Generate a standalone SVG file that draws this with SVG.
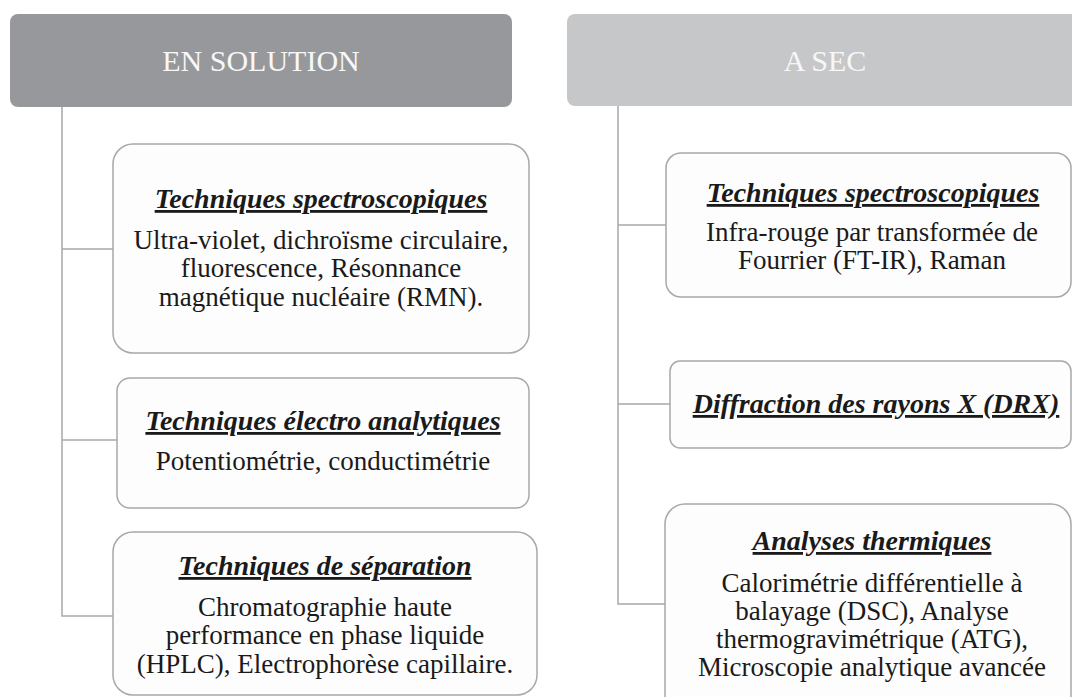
<svg xmlns="http://www.w3.org/2000/svg" width="1072" height="697" viewBox="0 0 1072 697">
<style>
text{font-family:'Liberation Serif','Tinos','Times New Roman',Times,'DejaVu Serif',serif}
.hdr-text{font-size:30px;fill:#f7f7f7;text-anchor:middle}
.box{fill:#fdfdfd;stroke:#a8a8aa;stroke-width:1.5}
.title{font-size:28px;font-weight:bold;font-style:italic;fill:#1a1a1a;text-anchor:middle;text-decoration:underline}
.body{font-size:27px;fill:#1a1a1a;text-anchor:middle}
.conn{fill:none;stroke:#a8a8aa;stroke-width:1.5}
</style>
<rect width="1072" height="697" fill="#ffffff"/>
<g id="connectors">
<path class="conn" d="M62,107 V616 H113 M62,249 H113 M62,440 H117"/>
<path class="conn" d="M618,106 V604 H665 M618,225 H666 M618,404 H670"/>
</g>
<g id="hdr-solution">
<rect x="10" y="14" width="502" height="93" rx="8" fill="#97989c"/>
<text class="hdr-text" x="261" y="71">EN SOLUTION</text>
</g>
<g id="hdr-sec">
<rect x="567" y="14" width="520" height="92" rx="8" fill="#c6c7c9"/>
<text class="hdr-text" x="825" y="71">A SEC</text>
</g>
<g id="sol-spectro">
<rect class="box" x="113" y="144" width="416" height="209" rx="20"/>
<text class="title" x="321" y="208">Techniques spectroscopiques</text>
<text class="body" x="321" y="249">Ultra-violet, dichroïsme circulaire,</text>
<text class="body" x="321" y="277">fluorescence, Résonnance</text>
<text class="body" x="321" y="306">magnétique nucléaire (RMN).</text>
</g>
<g id="sol-electro">
<rect class="box" x="117" y="378" width="412" height="130" rx="13"/>
<text class="title" x="323" y="430">Techniques électro analytiques</text>
<text class="body" x="323" y="470">Potentiométrie, conductimétrie</text>
</g>
<g id="sol-separation">
<rect class="box" x="113" y="532" width="424" height="163" rx="20"/>
<text class="title" x="325" y="575">Techniques de séparation</text>
<text class="body" x="325" y="616">Chromatographie haute</text>
<text class="body" x="325" y="644">performance en phase liquide</text>
<text class="body" x="325" y="673">(HPLC), Electrophorèse capillaire.</text>
</g>
<g id="sec-spectro">
<rect class="box" x="666" y="153" width="405" height="144" rx="15"/>
<text class="title" x="873" y="202">Techniques spectroscopiques</text>
<text class="body" x="872" y="241">Infra-rouge par transformée de</text>
<text class="body" x="872" y="269">Fourrier (FT-IR), Raman</text>
</g>
<g id="sec-drx">
<rect class="box" x="670" y="361" width="401" height="87" rx="10"/>
<text class="title" x="876" y="413">Diffraction des rayons X (DRX)</text>
</g>
<g id="sec-thermal">
<rect class="box" x="665" y="504" width="406" height="210" rx="20"/>
<text class="title" x="872" y="550">Analyses thermiques</text>
<text class="body" x="872" y="592">Calorimétrie différentielle à</text>
<text class="body" x="872" y="620">balayage (DSC), Analyse</text>
<text class="body" x="872" y="648">thermogravimétrique (ATG),</text>
<text class="body" x="872" y="676">Microscopie analytique avancée</text>
</g>
</svg>
